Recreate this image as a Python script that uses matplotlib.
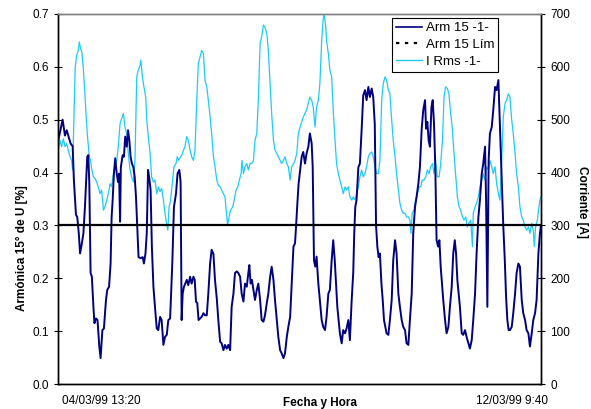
import matplotlib
matplotlib.use("Agg")
import matplotlib.pyplot as plt
from matplotlib.lines import Line2D
from matplotlib.ticker import FormatStrFormatter

plt.rcParams['font.family'] = ['Liberation Sans', 'DejaVu Sans']

# ---- data (hours since 04/03/99 13:20) ----
t_arm = [0.0, 1.7, 2.6, 3.3, 3.9, 4.8, 5.6, 6.1, 6.9, 7.4, 8.0, 8.5, 9.1, 9.8, 10.4, 11.3, 11.7, 12.1,
         12.6, 13.1, 13.7, 14.1, 14.7, 15.3, 16.0, 16.5, 17.2, 17.8, 18.6, 19.1, 19.8, 20.4, 20.8, 21.2,
         21.7, 22.2, 22.8, 23.3, 23.7, 24.1, 24.4, 25.1, 25.6, 26.1, 26.7, 27.2, 27.7, 28.2, 28.7, 29.3,
         29.8, 30.3, 30.8, 31.3, 32.1, 32.9, 33.4, 34.0, 34.5, 35.0, 35.5, 36.0, 36.5, 37.1, 37.7, 38.4,
         39.0, 39.7, 40.3, 41.0, 41.6, 42.3, 42.9, 43.6, 44.0, 44.5, 45.1, 45.9, 46.5, 47.2, 47.7, 48.1,
         48.5, 49.0, 49.5, 50.1, 50.7, 51.4, 52.0, 52.7, 53.2, 53.7, 54.2, 54.7, 55.3, 55.9, 56.6, 57.2,
         57.9, 58.5, 59.2, 59.8, 60.5, 61.1, 61.8, 62.4, 63.1, 63.7, 64.4, 65.0, 65.7, 66.3, 67.0, 67.6,
         68.3, 68.9, 69.6, 70.2, 70.9, 71.5, 72.2, 72.8, 73.5, 74.1, 74.5, 75.0, 75.5, 76.1, 76.7, 77.4,
         78.0, 78.7, 79.3, 80.0, 80.6, 81.3, 81.9, 82.6, 83.2, 83.9, 84.5, 85.2, 85.8, 86.5, 87.1, 87.8,
         88.4, 89.1, 89.7, 90.4, 91.0, 91.7, 92.3, 92.7, 93.2, 93.7, 94.3, 94.9, 95.5, 96.2, 96.8, 97.5,
         98.1, 98.8, 99.2, 99.7, 100.2, 100.7, 101.4, 102.0, 102.7, 103.3, 104.0, 104.6, 105.3, 105.9,
         106.6, 107.2, 107.8, 108.3, 108.8, 109.3, 109.8, 110.5, 111.1, 111.8, 112.4, 113.1, 113.7, 114.4,
         115.0, 115.4, 115.8, 116.3, 117.0, 117.6, 118.3, 118.9, 119.6, 120.2, 120.9, 121.5, 122.2, 122.8,
         123.4, 123.9, 124.4, 124.9, 125.4, 126.0, 126.5, 127.0, 127.5, 128.0, 128.7, 129.3, 130.0, 130.6,
         131.3, 131.9, 132.6, 133.2, 133.9, 134.5, 135.2, 135.8, 136.5, 137.1, 137.8, 138.4, 139.1, 139.7,
         140.4, 141.0, 141.7, 142.3, 143.0, 143.4, 143.9, 144.4, 144.9, 145.5, 146.0, 146.5, 147.0, 147.5,
         148.1, 148.6, 149.1, 149.6, 150.1, 150.8, 151.4, 152.1, 152.7, 153.4, 154.0, 154.6, 155.1, 155.6,
         156.1, 156.6, 157.3, 157.9, 158.6, 159.2, 159.9, 160.5, 161.2, 161.8, 162.5, 163.1, 163.8, 164.4,
         165.1, 165.7, 166.4, 166.8, 167.3, 167.8, 168.3, 169.0, 169.6, 170.3, 170.9, 171.6, 172.0, 172.5,
         173.0, 173.5, 174.1, 174.6, 175.1, 175.6, 176.1, 176.8, 177.4, 178.1, 178.7, 179.4, 180.0, 180.7,
         181.3, 182.0, 182.6, 183.3, 183.9, 184.6, 185.2, 185.9, 186.5, 187.2, 187.8, 188.2]
arm15 = [0.461, 0.50, 0.47, 0.48, 0.47, 0.455, 0.45, 0.385, 0.32, 0.316, 0.285, 0.247, 0.263, 0.285, 0.335,
         0.43, 0.433, 0.38, 0.21, 0.203, 0.146, 0.115, 0.124, 0.121, 0.071, 0.049, 0.102, 0.105, 0.159,
         0.178, 0.184, 0.228, 0.316, 0.348, 0.398, 0.427, 0.398, 0.382, 0.398, 0.307, 0.41, 0.433, 0.43,
         0.468, 0.449, 0.48, 0.461, 0.43, 0.417, 0.41, 0.392, 0.354, 0.297, 0.24, 0.238, 0.24, 0.228, 0.247,
         0.285, 0.405, 0.389, 0.367, 0.259, 0.184, 0.146, 0.105, 0.102, 0.127, 0.121, 0.074, 0.089, 0.093,
         0.121, 0.124, 0.171, 0.235, 0.335, 0.36, 0.398, 0.405, 0.382, 0.121, 0.171, 0.184, 0.19, 0.197,
         0.187, 0.203, 0.19, 0.203, 0.197, 0.156, 0.153, 0.121, 0.124, 0.127, 0.134, 0.13, 0.13, 0.171,
         0.228, 0.254, 0.246, 0.197, 0.162, 0.121, 0.08, 0.077, 0.064, 0.074, 0.067, 0.074, 0.064, 0.146,
         0.171, 0.21, 0.213, 0.21, 0.203, 0.171, 0.156, 0.19, 0.184, 0.21, 0.225, 0.19, 0.197, 0.178, 0.159,
         0.178, 0.19, 0.159, 0.121, 0.118, 0.13, 0.153, 0.171, 0.203, 0.222, 0.197, 0.159, 0.121, 0.089,
         0.064, 0.058, 0.049, 0.058, 0.089, 0.108, 0.127, 0.19, 0.26, 0.266, 0.297, 0.34, 0.379, 0.405,
         0.43, 0.439, 0.417, 0.436, 0.449, 0.474, 0.455, 0.411, 0.234, 0.222, 0.241, 0.19, 0.159, 0.121,
         0.108, 0.102, 0.127, 0.171, 0.178, 0.234, 0.272, 0.234, 0.19, 0.146, 0.121, 0.096, 0.077, 0.102,
         0.096, 0.105, 0.121, 0.083, 0.159, 0.21, 0.285, 0.335, 0.348, 0.41, 0.417, 0.483, 0.546, 0.556,
         0.537, 0.562, 0.543, 0.559, 0.543, 0.492, 0.30, 0.26, 0.24, 0.247, 0.19, 0.159, 0.121, 0.108, 0.096,
         0.093, 0.121, 0.159, 0.234, 0.272, 0.247, 0.171, 0.146, 0.121, 0.108, 0.102, 0.077, 0.074, 0.121,
         0.171, 0.285, 0.335, 0.354, 0.379, 0.41, 0.483, 0.518, 0.537, 0.483, 0.496, 0.461, 0.449, 0.524,
         0.537, 0.492, 0.41, 0.272, 0.26, 0.272, 0.222, 0.19, 0.159, 0.121, 0.096, 0.108, 0.146, 0.184,
         0.247, 0.272, 0.247, 0.197, 0.171, 0.146, 0.096, 0.093, 0.102, 0.089, 0.077, 0.067, 0.083, 0.121,
         0.171, 0.247, 0.316, 0.348, 0.398, 0.417, 0.449, 0.348, 0.146, 0.423, 0.474, 0.486, 0.518, 0.562,
         0.556, 0.575, 0.518, 0.442, 0.373, 0.30, 0.234, 0.165, 0.121, 0.102, 0.102, 0.108, 0.134, 0.171,
         0.21, 0.228, 0.222, 0.159, 0.134, 0.121, 0.102, 0.096, 0.071, 0.096, 0.121, 0.134, 0.159, 0.247,
         0.285, 0.30]

t_irms = [0.0, 0.7, 1.3, 2.0, 2.6, 3.3, 3.9, 4.6, 5.2, 5.6, 6.1, 6.6, 7.2, 7.8, 8.2, 8.7, 9.2, 9.8, 10.3,
          10.8, 11.3, 12.1, 12.6, 13.1, 13.7, 14.3, 15.0, 15.6, 16.3, 16.9, 17.6, 18.2, 18.9, 19.5, 20.2,
          20.8, 21.5, 22.1, 22.8, 23.4, 24.1, 24.7, 25.4, 26.0, 26.7, 27.3, 28.0, 28.6, 29.3, 29.9, 30.6,
          31.2, 31.9, 32.2, 32.8, 33.4, 34.1, 34.5, 35.1, 35.8, 36.4, 37.1, 37.7, 38.4, 39.0, 39.7, 40.3,
          41.0, 41.6, 42.3, 42.7, 43.2, 43.8, 44.3, 45.1, 45.9, 46.4, 46.9, 47.7, 48.2, 48.8, 49.4, 50.1,
          50.7, 51.4, 52.0, 52.7, 53.3, 54.0, 54.6, 55.3, 55.9, 56.6, 57.2, 57.9, 58.5, 59.2, 59.8, 60.5,
          61.1, 61.8, 62.4, 63.1, 63.7, 64.4, 65.0, 65.7, 66.0, 66.6, 67.2, 68.0, 68.6, 69.3, 70.0, 70.6,
          71.3, 71.6, 72.2, 72.8, 73.5, 74.1, 74.8, 75.4, 76.1, 76.7, 77.4, 78.0, 78.7, 79.3, 80.0, 80.6,
          81.3, 81.9, 82.6, 83.2, 83.9, 84.5, 85.2, 85.8, 86.5, 87.1, 87.8, 88.4, 89.1, 89.7, 90.4, 91.0,
          91.7, 92.3, 93.0, 93.6, 94.3, 95.5, 96.8, 98.1, 98.8, 99.4, 100.1, 100.7, 101.4, 102.0, 102.7,
          103.3, 103.7, 104.3, 104.6, 105.3, 105.9, 106.6, 107.2, 107.9, 108.5, 109.2, 109.8, 110.5, 111.1,
          111.8, 112.4, 113.1, 113.7, 114.4, 115.0, 115.7, 116.3, 117.0, 117.6, 118.3, 118.9, 119.6, 120.2,
          120.9, 121.5, 122.2, 122.8, 123.5, 124.1, 124.8, 125.4, 126.1, 126.7, 127.4, 128.0, 128.7, 129.3,
          130.0, 130.6, 131.3, 131.9, 132.6, 133.2, 133.9, 134.5, 135.2, 135.8, 136.5, 137.1, 137.5, 138.0,
          138.7, 139.3, 140.0, 140.7, 141.3, 141.9, 142.6, 143.3, 143.9, 144.6, 145.2, 145.9, 146.5, 147.1,
          147.8, 148.5, 149.1, 149.8, 150.4, 151.0, 151.7, 152.3, 153.0, 153.6, 154.3, 154.9, 155.6, 156.3,
          156.9, 157.6, 158.2, 158.9, 159.5, 160.1, 160.8, 161.5, 161.8, 162.5, 163.1, 163.8, 164.4, 165.1,
          165.7, 166.4, 167.0, 167.7, 168.3, 169.0, 169.6, 170.3, 170.9, 171.6, 172.2, 172.9, 173.5, 174.2,
          174.8, 175.5, 176.1, 176.8, 177.4, 178.1, 178.7, 179.4, 180.0, 180.7, 181.3, 182.0, 182.6, 183.3,
          183.9, 184.6, 185.2, 185.6, 186.1, 186.8, 187.4, 187.8, 188.2]
irms = [442, 461, 449, 464, 449, 455, 442, 430, 423, 405, 505, 600, 622, 631, 647, 635, 628, 594, 556, 512,
        474, 430, 423, 405, 392, 389, 382, 373, 360, 367, 329, 335, 348, 360, 379, 373, 398, 411, 423, 449,
        493, 502, 512, 486, 474, 436, 405, 392, 382, 423, 581, 594, 603, 613, 581, 562, 543, 499, 468, 436,
        392, 382, 386, 360, 373, 364, 370, 348, 323, 301, 291, 335, 348, 373, 411, 417, 430, 423, 430, 433,
        442, 449, 468, 461, 442, 430, 423, 442, 537, 606, 619, 631, 625, 575, 562, 537, 505, 474, 430, 411,
        386, 376, 373, 367, 360, 354, 316, 301, 316, 329, 335, 348, 367, 373, 386, 398, 423, 398, 411, 417,
        405, 417, 417, 423, 461, 474, 537, 644, 657, 679, 675, 663, 631, 568, 512, 461, 442, 436, 430, 423,
        417, 423, 430, 417, 411, 386, 411, 417, 423, 436, 474, 486, 505, 518, 543, 537, 524, 486, 524, 537,
        568, 650, 691, 699, 675, 650, 625, 594, 581, 518, 461, 417, 398, 386, 373, 360, 373, 367, 373, 354,
        348, 354, 348, 360, 373, 392, 405, 392, 398, 411, 430, 436, 439, 430, 411, 398, 398, 423, 537, 568,
        581, 575, 556, 549, 499, 461, 430, 398, 367, 342, 329, 323, 323, 316, 316, 310, 285, 323, 329, 348,
        360, 373, 373, 386, 386, 392, 405, 398, 411, 417, 398, 423, 392, 392, 417, 461, 543, 562, 559, 549,
        512, 486, 436, 398, 354, 335, 329, 316, 310, 316, 297, 304, 310, 260, 323, 335, 342, 354, 373, 386,
        398, 386, 411, 405, 423, 411, 398, 411, 379, 360, 348, 423, 505, 531, 537, 549, 543, 499, 474, 436,
        398, 373, 335, 316, 310, 297, 291, 297, 285, 304, 291, 260, 297, 310, 335, 348, 354]

t_lim = [0.0, 188.33]
arm15_lim = [0.3, 0.3]

xtick_pos = [16.6, 177.1]
xtick_labels = ["04/03/99 13:20", "12/03/99 9:40"]

NAVY = "#000080"
CYAN = "#1ECBF5"

fig = plt.figure(figsize=(5.91, 4.09), dpi=100)
ax = fig.add_axes([0.0986, 0.0611, 0.8173, 0.9047])
ax2 = ax.twinx()
ax.set_zorder(ax2.get_zorder() + 1)
ax.patch.set_visible(False)

ax2.plot(t_irms, irms, color=CYAN, lw=0.9)
ax.plot(t_arm, arm15, color=NAVY, lw=1.4)
ax.plot(t_lim, arm15_lim, color="black", lw=1.6)

ax.set_xlim(0, 188.33)
ax.set_ylim(0, 0.7)
ax2.set_ylim(0, 700)
ax.set_yticks([0.0, 0.1, 0.2, 0.3, 0.4, 0.5, 0.6, 0.7])
ax.yaxis.set_major_formatter(FormatStrFormatter('%.1f'))
ax2.set_yticks(range(0, 701, 100))

for a in (ax, ax2):
    for s in a.spines.values():
        s.set_color("black")
        s.set_linewidth(1.0)
    a.spines['top'].set_color("#808080")
    a.tick_params(axis='y', direction='inout', length=6, width=0.8, labelsize=8.5, pad=3.5)

ax.set_xticks(xtick_pos)
ax.set_xticklabels(xtick_labels)
ax.tick_params(axis='x', length=0, labelsize=8.5, pad=8)

ax.set_xlabel("Fecha y Hora", fontsize=8.5, fontweight='bold')
ax.xaxis.set_label_coords(0.542, -0.036)
ax.set_ylabel("Armónica 15° de U [%]", fontsize=8.5, fontweight='bold', va='center')
ax.yaxis.set_label_coords(-0.075, 0.366)
ax2.set_ylabel("Corriente [A]", fontsize=8.5, fontweight='bold', rotation=270, va='center')
ax2.yaxis.set_label_coords(1.084, 0.493)

handles = [Line2D([], [], color=NAVY, lw=1.2),
           Line2D([], [], color="black", lw=1.6, linestyle=(0, (1.5, 2.5))),
           Line2D([], [], color=CYAN, lw=1.0)]
leg = ax.legend(handles, ["Arm 15 -1-", "Arm 15 Lím", "I Rms -1-"],
                loc='upper left', bbox_to_anchor=(0.691, 0.989), fontsize=9.5,
                frameon=True, fancybox=False, framealpha=1, edgecolor="black",
                handlelength=2.0, handletextpad=0.25, borderpad=0.3, labelspacing=0.35,
                borderaxespad=0)
leg.get_frame().set_linewidth(0.8)

fig.savefig("out.png", dpi=100)
